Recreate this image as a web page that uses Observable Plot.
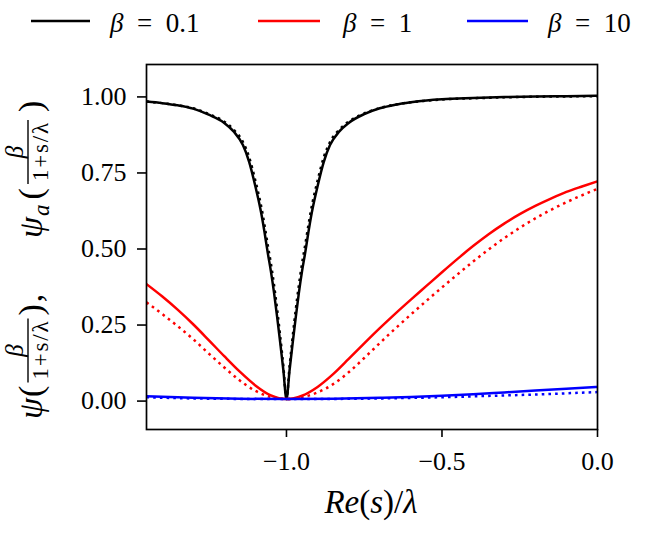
<!DOCTYPE html>
<html>
<head>
<meta charset="utf-8">
<script src="https://cdn.jsdelivr.net/npm/d3@7"></script>
<script src="https://cdn.jsdelivr.net/npm/@observablehq/plot@0.6"></script>
<style>
  body { margin: 0; background: #ffffff; }
  #wrap { width: 663px; height: 538px; background: #ffffff; }
  svg { display: block; }
</style>
</head>
<body>
<div id="wrap"></div>
<script>
// ---------- data ----------
const seriesLabels = ["0.1", "1", "10"];          // beta values (legend)
const seriesColors = ["#000000", "#ff0000", "#0000ff"];

const xTicks = [-1.0, -0.5, 0.0];
const yTicks = [0.0, 0.25, 0.5, 0.75, 1.0];

// beta = 0.1 (black)
const xBlack = [-1.45,-1.40,-1.35,-1.30,-1.25,-1.20,-1.17,-1.14,-1.12,-1.10,-1.09,-1.08,-1.07,-1.06,-1.05,-1.04,-1.03,-1.02,-1.01,-1.00,
                -0.99,-0.98,-0.97,-0.96,-0.95,-0.94,-0.93,-0.92,-0.91,-0.90,-0.88,-0.86,-0.83,-0.80,-0.75,-0.70,-0.65,-0.60,-0.55,-0.50,-0.40,-0.30,-0.20,-0.10,0.00];
const yBlackSolid = [0.978,0.973,0.966,0.955,0.935,0.908,0.880,0.835,0.780,0.700,0.655,0.605,0.545,0.480,0.420,0.350,0.270,0.185,0.095,0.000,
                     0.095,0.185,0.270,0.350,0.420,0.480,0.545,0.605,0.655,0.700,0.780,0.835,0.880,0.908,0.937,0.956,0.968,0.976,0.982,0.986,0.990,0.993,0.995,0.996,0.997];
const yBlackDotted = [0.978,0.973,0.966,0.956,0.937,0.912,0.886,0.845,0.795,0.718,0.675,0.627,0.568,0.505,0.445,0.375,0.295,0.205,0.108,0.000,
                      0.108,0.205,0.295,0.375,0.445,0.505,0.568,0.627,0.675,0.718,0.795,0.845,0.886,0.912,0.939,0.957,0.968,0.976,0.981,0.985,0.989,0.992,0.994,0.995,0.996];

// beta = 1 (red)
const xRed = [-1.45,-1.40,-1.35,-1.30,-1.25,-1.20,-1.15,-1.10,-1.05,-1.00,-0.95,-0.90,-0.85,-0.80,-0.75,-0.70,-0.65,-0.60,-0.55,-0.50,-0.45,-0.40,-0.35,-0.30,-0.25,-0.20,-0.15,-0.10,-0.05,0.00];
const yRedSolid = [0.378,0.338,0.294,0.246,0.194,0.141,0.090,0.045,0.012,0.000,0.011,0.040,0.082,0.132,0.183,0.233,0.281,0.327,0.372,0.417,0.461,0.503,0.542,0.577,0.608,0.635,0.659,0.681,0.699,0.716];
const yRedDotted = [0.318,0.280,0.240,0.197,0.150,0.104,0.061,0.027,0.007,0.000,0.006,0.022,0.049,0.088,0.135,0.184,0.232,0.278,0.323,0.367,0.410,0.452,0.492,0.529,0.563,0.594,0.622,0.647,0.670,0.691];

// beta = 10 (blue)
const xBlue = [-1.45,-1.30,-1.15,-1.00,-0.85,-0.70,-0.60,-0.50,-0.40,-0.30,-0.20,-0.10,0.00];
const yBlueSolid = [0.009,0.004,0.001,0.000,0.001,0.004,0.007,0.011,0.016,0.022,0.028,0.034,0.040];
const yBlueDotted = [0.006,0.002,0.0005,0.000,0.0005,0.002,0.004,0.006,0.009,0.012,0.015,0.019,0.023];

// ---------- helpers ----------
const rows = (xs, ys) => xs.map((x, i) => ({x, y: ys[i]}));
const FONT = "'Liberation Serif', 'DejaVu Serif', serif";
const fmtX = d => (d < 0 ? "\u2212" : "") + Math.abs(d).toFixed(1);
const fmtY = d => d.toFixed(2);
const solidW = 2.5;
const dots = "2.6,4.1";

// ---------- legend (above the plot) ----------
const wrap = d3.select("#wrap");
const leg = wrap.append("svg").attr("width", 663).attr("height", 44);
const legLines = [[31, 90], [258, 320], [467, 528]];
const legText = [110, 343, 548];
seriesLabels.forEach((lab, i) => {
  leg.append("line").attr("x1", legLines[i][0]).attr("x2", legLines[i][1])
    .attr("y1", 21).attr("y2", 21).attr("stroke", seriesColors[i]).attr("stroke-width", 2.6);
  const t = leg.append("text").attr("x", legText[i]).attr("y", 32)
    .attr("font-family", FONT).attr("font-size", 27).attr("fill", "#000");
  t.append("tspan").attr("font-style", "italic").text("\u03b2");
  t.append("tspan").text("\u2002=\u2002" + lab);
});

// ---------- plot ----------
const lineOpts = (color, dashed) => ({
  x: "x", y: "y", stroke: color, strokeWidth: solidW, curve: "monotone-x", clip: true,
  ...(dashed ? {strokeDasharray: dots, strokeLinecap: "butt"} : {})
});

const chart = Plot.plot({
  width: 663,
  height: 494,
  marginTop: 20,
  marginBottom: 109,
  marginLeft: 146,
  marginRight: 66,
  style: {fontFamily: FONT, fontSize: "26px", color: "#000", background: "#fff"},
  x: {domain: [-1.45, 0], label: null},
  y: {domain: [-0.1, 1.1], label: null},
  marks: [
    Plot.line(rows(xBlack, yBlackSolid), lineOpts(seriesColors[0], false)),
    Plot.line(rows(xBlack, yBlackDotted), lineOpts(seriesColors[0], true)),
    Plot.line(rows(xRed, yRedSolid), lineOpts(seriesColors[1], false)),
    Plot.line(rows(xRed, yRedDotted), lineOpts(seriesColors[1], true)),
    Plot.line(rows(xBlue, yBlueSolid), lineOpts(seriesColors[2], false)),
    Plot.line(rows(xBlue, yBlueDotted), lineOpts(seriesColors[2], true)),
    Plot.frame({stroke: "#000", strokeWidth: 1.7}),
    Plot.axisX({ticks: xTicks, tickFormat: fmtX, tickSize: 8, tickPadding: 14, strokeWidth: 1.6, fontSize: 26, label: null}),
    Plot.axisY({ticks: yTicks, tickFormat: fmtY, tickSize: 9, tickPadding: 11, strokeWidth: 1.6, fontSize: 26, dy: 2, label: null})
  ]
});
wrap.node().appendChild(chart);

const svg = d3.select(chart);

// x-axis label: Re(s)/λ
const xl = svg.append("text").attr("x", 371).attr("y", 469).attr("text-anchor", "middle")
  .attr("font-family", FONT).attr("font-size", 33).attr("fill", "#000");
[["R", true], ["e", true], ["(", false], ["s", true], [")", false], ["/", false], ["\u03bb", true]]
  .forEach(([c, it]) => xl.append("tspan").attr("font-style", it ? "italic" : "normal").text(c));

// y-axis label (rotated, flowing along the axis): ψ(β/(1+s/λ)),   ψ_a(β/(1+s/λ))
const yl = svg.append("g").attr("transform", "translate(0,494) rotate(-90)")
  .attr("font-family", FONT).attr("fill", "#000");
const BASE = 42, BIG = 34;
const put = (u, v, txt, size, italic, anchor, ls) => {
  const t = yl.append("text").attr("x", u).attr("y", v).attr("font-size", size)
    .attr("font-style", italic ? "italic" : "normal").attr("text-anchor", anchor || "start").text(txt);
  if (ls) t.attr("letter-spacing", ls);
  return t.node().getComputedTextLength();
};
const frac = (u0) => {
  const w = 64;                          // fraction width along the axis
  const uc = u0 + w / 2 + 2;
  put(uc, 23, "\u03b2", 25, true, "middle");
  yl.append("line").attr("x1", uc - w / 2).attr("x2", uc + w / 2).attr("y1", 28).attr("y2", 28)
    .attr("stroke", "#000").attr("stroke-width", 1.4);
  put(uc + 1, 48, "1+s/\u03bb", 23, false, "middle", 1.8);
  return w + 4;
};
// first part
let u = 119;
u += put(u, BASE, "\u03c8", BIG, true) + 1;
u += put(u, BASE, "(", BIG, false) + 1;
u += frac(u) + 1;
u += put(u, BASE, ")", BIG, false) + 2;
put(u, BASE, ",", BIG, false);
// second part
u = 300;
u += put(u, BASE, "\u03c8", BIG, true) + 1;
u += put(u, 49, "a", 23, true) + 5;
u += put(u, BASE, "(", BIG, false) + 2;
u += frac(u) + 6;
put(u, BASE, ")", BIG, false);
</script>
</body>
</html>
